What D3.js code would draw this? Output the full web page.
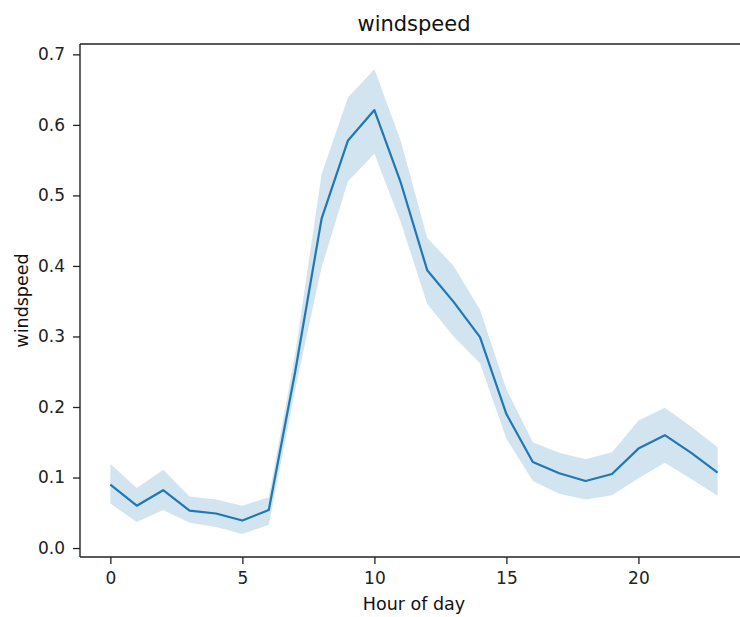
<!DOCTYPE html>
<html>
<head>
<meta charset="utf-8">
<script src="https://cdn.jsdelivr.net/npm/d3@7"></script>
<style>
  html, body { margin: 0; padding: 0; background: #fff; }
  svg { display: block; font-family: "DejaVu Sans", sans-serif; }
</style>
</head>
<body>
<svg id="chart" width="740" height="617"></svg>
<script>
// Data
const hours = [0,1,2,3,4,5,6,7,8,9,10,11,12,13,14,15,16,17,18,19,20,21,22,23];
const meanSpeed = [0.090,0.060,0.082,0.053,0.049,0.039,0.054,0.250,0.467,0.578,0.621,0.518,0.394,0.349,0.299,0.190,0.122,0.106,0.095,0.105,0.141,0.160,0.135,0.107];
const upperCI  = [0.119,0.085,0.111,0.073,0.069,0.060,0.072,0.275,0.530,0.639,0.679,0.577,0.440,0.400,0.338,0.225,0.150,0.135,0.126,0.136,0.181,0.199,0.172,0.143];
const lowerCI  = [0.063,0.037,0.054,0.036,0.030,0.020,0.033,0.225,0.398,0.520,0.559,0.462,0.346,0.300,0.262,0.155,0.095,0.077,0.069,0.075,0.099,0.121,0.098,0.074];
const yTicks = [0.0,0.1,0.2,0.3,0.4,0.5,0.6,0.7];
const xTicks = [0,5,10,15,20];

const svg = d3.select("#chart");
const mLeft = 80, mRight = 748, mTop = 44, mBottom = 557;

const x = d3.scaleLinear().domain([-1.15, 24.15]).range([mLeft, mRight]);
const y = d3.scaleLinear().domain([-0.0127, 0.7147]).range([mBottom, mTop]);

const series = hours.map((h, i) => ({h, m: meanSpeed[i], lo: lowerCI[i], hi: upperCI[i]}));

// CI band
svg.append("path")
  .datum(series)
  .attr("fill", "#1f77b4")
  .attr("fill-opacity", 0.2)
  .attr("stroke", "none")
  .attr("d", d3.area().x(d => x(d.h)).y0(d => y(d.lo)).y1(d => y(d.hi)));

// mean line
svg.append("path")
  .datum(series)
  .attr("fill", "none")
  .attr("stroke", "#1f77b4")
  .attr("stroke-width", 2.2)
  .attr("stroke-linejoin", "round")
  .attr("d", d3.line().x(d => x(d.h)).y(d => y(d.m)));

// Axes
const xAxis = d3.axisBottom(x).tickValues(xTicks).tickFormat(d3.format("d")).tickSizeOuter(0).tickSize(7).tickPadding(8);
const yAxis = d3.axisLeft(y).tickValues(yTicks).tickFormat(d3.format(".1f")).tickSizeOuter(0).tickSize(7).tickPadding(8);

const gx = svg.append("g").attr("transform", `translate(0,${mBottom})`).call(xAxis);
const gy = svg.append("g").attr("transform", `translate(${mLeft},0)`).call(yAxis);
[gx, gy].forEach(g => {
  g.select(".domain").remove();
  g.selectAll(".tick line").attr("stroke", "#222").attr("stroke-width", 1.3);
  g.selectAll(".tick text").attr("fill", "#222").style("font-size", "17px").style("font-family", "DejaVu Sans");
});

// spines
svg.append("line").attr("x1", mLeft).attr("x2", mLeft).attr("y1", mTop).attr("y2", mBottom).attr("stroke", "#222").attr("stroke-width", 1.4);
svg.append("line").attr("x1", mLeft).attr("x2", mRight).attr("y1", mBottom).attr("y2", mBottom).attr("stroke", "#222").attr("stroke-width", 1.4);
svg.append("line").attr("x1", mLeft).attr("x2", mRight).attr("y1", mTop).attr("y2", mTop).attr("stroke", "#222").attr("stroke-width", 1.4);
svg.append("line").attr("x1", mRight).attr("x2", mRight).attr("y1", mTop).attr("y2", mBottom).attr("stroke", "#222").attr("stroke-width", 1.4);

// Title and labels
svg.append("text").attr("x", (mLeft + mRight) / 2).attr("y", 31).attr("text-anchor", "middle")
  .style("font-size", "21px").attr("fill", "#111").text("windspeed");
svg.append("text").attr("x", (mLeft + mRight) / 2).attr("y", 610).attr("text-anchor", "middle")
  .style("font-size", "17.5px").attr("fill", "#111").text("Hour of day");
svg.append("text").attr("transform", `translate(28,${(mTop + mBottom) / 2}) rotate(-90)`).attr("text-anchor", "middle")
  .style("font-size", "17.5px").attr("fill", "#111").text("windspeed");
</script>
</body>
</html>
